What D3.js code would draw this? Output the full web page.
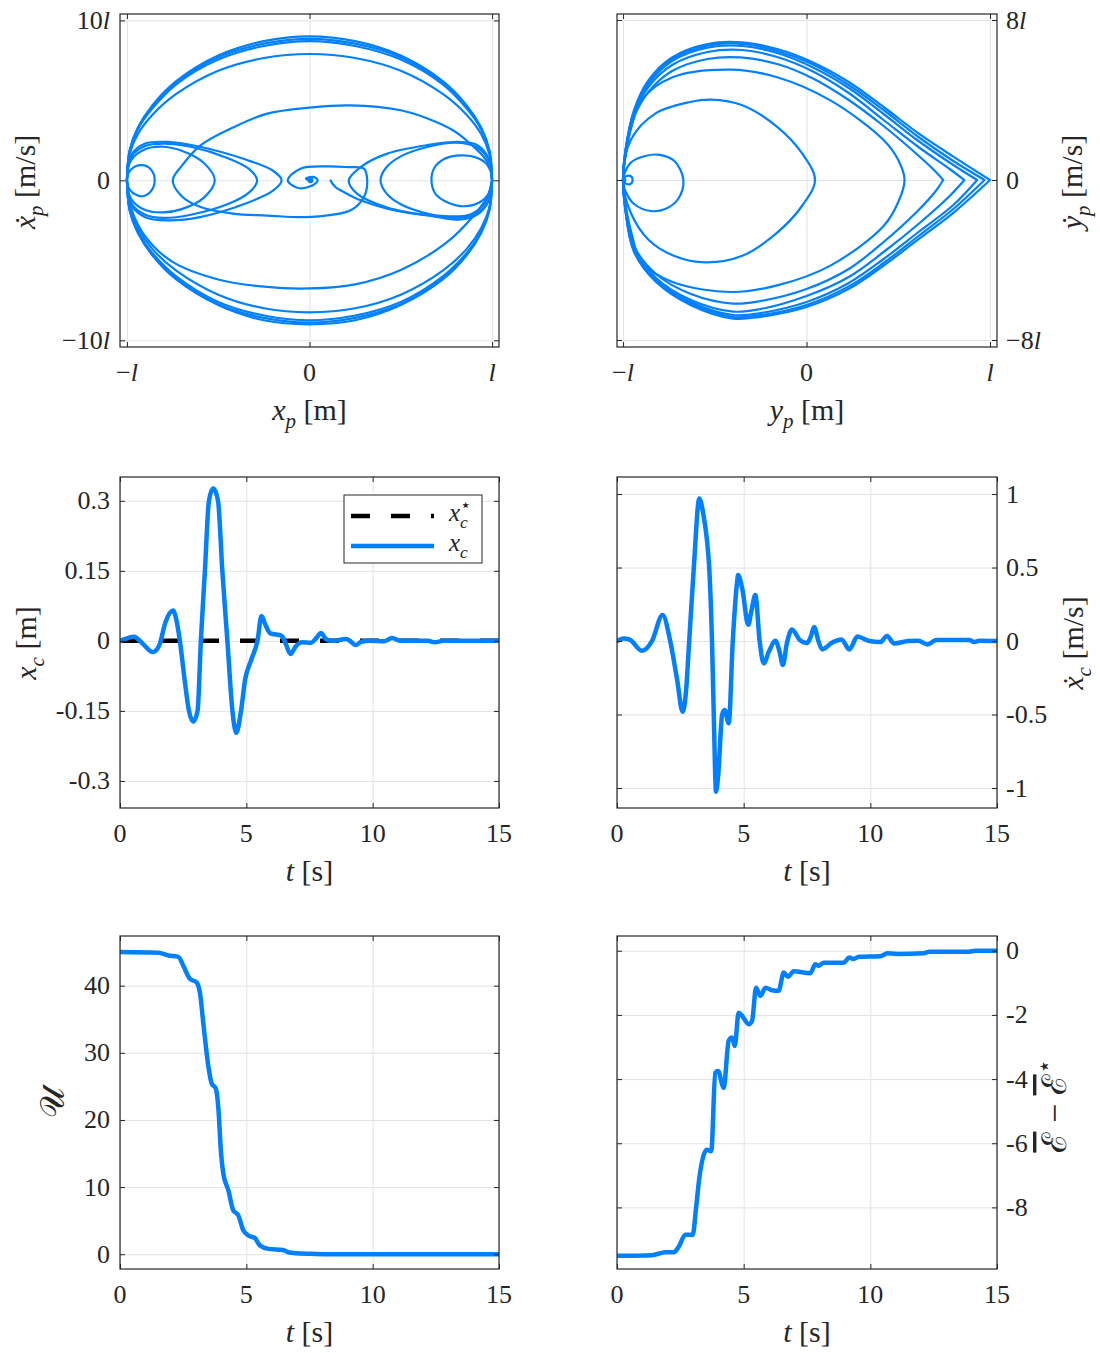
<!DOCTYPE html>
<html lang="en">
<head>
<meta charset="utf-8" />
<title>Pendulum swing-up: phase portraits and cart response</title>
<script src="https://cdn.jsdelivr.net/npm/d3@7"></script>
<style>
  body { margin: 0; background: #fff; }
  svg text { font-family: "Liberation Serif", "DejaVu Serif", serif; fill: #262626; }
</style>
</head>
<body>
<svg width="1100" height="1353"></svg>
<script>
// ---------- data ----------
// top left: x_p (in l) vs xdot_p (in l/s)
var xpOuterX = [-1, -0.985, -0.94, -0.86, -0.73, -0.5, -0.25, 0, 0.25, 0.5, 0.73, 0.86, 0.94, 0.985, 1];
var xpOuterTop = [
  [0, 1.9, 3.3, 4.7, 6.2, 7.8, 8.7, 9.0, 8.7, 7.8, 6.2, 4.7, 3.3, 1.9, 0],
  [0, 1.85, 3.25, 4.6, 6.1, 7.7, 8.55, 8.85, 8.55, 7.7, 6.1, 4.6, 3.25, 1.85, 0],
  [0, 1.8, 3.2, 4.5, 6.0, 7.55, 8.4, 8.7, 8.4, 7.55, 6.0, 4.5, 3.2, 1.8, 0],
  [0, 1.65, 2.9, 4.1, 5.4, 6.85, 7.65, 7.9, 7.65, 6.85, 5.4, 4.1, 2.9, 1.65, 0]
];
var xpOuterBottom = [
  [0, -1.9, -3.3, -4.7, -6.2, -7.8, -8.75, -9.0, -8.75, -7.8, -6.2, -4.7, -3.3, -1.9, 0],
  [0, -1.85, -3.25, -4.65, -6.1, -7.75, -8.6, -8.9, -8.6, -7.75, -6.1, -4.65, -3.25, -1.85, 0],
  [0, -1.8, -3.2, -4.55, -6.0, -7.6, -8.45, -8.75, -8.45, -7.6, -6.0, -4.55, -3.2, -1.8, 0],
  [0, -1.7, -3.0, -4.3, -5.65, -7.15, -8.0, -8.25, -8.0, -7.15, -5.65, -4.3, -3.0, -1.7, 0]
];
var xpMidBottom = [[-1, 0], [-0.975, -1.8], [-0.9, -3.5], [-0.75, -5.1], [-0.5, -6.2], [-0.25, -6.65], [0, -6.76],
  [0.25, -6.5], [0.5, -5.6], [0.75, -3.9], [0.9, -2.2], [0.975, -1.0], [1, 0]];
var xpStart = [[0.115, 0], [0.14, -0.4], [0.188, -0.73], [0.28, -1.25], [0.426, -1.77], [0.55, -2.05], [0.68, -2.19],
  [0.864, -2.19], [0.94, -1.7], [0.975, -1.1], [1, 0]];
var xpFinal = [[1, 0], [0.99, 0.8], [0.955, 1.46], [0.88, 2.3], [0.79, 3.1], [0.65, 3.85], [0.5, 4.38], [0.225, 4.69],
  [0, 4.55], [-0.232, 4.17], [-0.42, 3.3], [-0.597, 2.19], [-0.7, 0.9], [-0.749, 0], [-0.7, -1.0], [-0.597, -1.67],
  [-0.42, -2.08], [-0.232, -2.2], [0.005, -2.29], [0.225, -1.875], [0.298, -1.04], [0.316, 0], [0.298, 0.73],
  [0.207, 0.83], [0.097, 0.875], [-0.05, 0.73], [-0.119, 0], [-0.067, -0.46], [0.005, -0.375], [0.045, 0],
  [0.02, 0.22], [-0.02, 0.1], [0, 0]];
var xpLobeR1 = [[1, 0], [0.975, 0.95], [0.92, 1.4], [0.83, 1.56], [0.74, 1.35], [0.685, 0.8], [0.668, 0],
  [0.69, -0.85], [0.76, -1.4], [0.85, -1.62], [0.935, -1.35], [0.98, -0.85]];
var xpLobeR2 = [[1, 0], [0.975, 1.4], [0.91, 2.1], [0.8, 2.35], [0.65, 2.1], [0.5, 1.5], [0.42, 0.8], [0.389, 0],
  [0.42, -0.8], [0.5, -1.5], [0.65, -2.1], [0.8, -2.35], [0.91, -2.1], [0.975, -1.4]];
var xpLobeR3 = [[1, 0], [0.975, 1.5], [0.91, 2.25], [0.82, 2.4], [0.645, 2.2], [0.426, 1.67], [0.28, 0.83], [0.215, 0],
  [0.26, -0.83], [0.426, -1.7], [0.68, -2.25], [0.83, -2.45], [0.925, -2.1], [0.98, -1.3]];
var xpLobeL1 = [[-1, 0], [-0.98, 0.65], [-0.92, 0.95], [-0.87, 0.7], [-0.848, 0], [-0.87, -0.7], [-0.92, -1.0], [-0.98, -0.65]];
var xpLobeL2 = [[-1, 0], [-0.975, 1.3], [-0.9, 1.95], [-0.8, 2.1], [-0.7, 1.85], [-0.58, 1.1], [-0.519, 0],
  [-0.58, -1.1], [-0.7, -1.8], [-0.8, -2.0], [-0.9, -1.85], [-0.975, -1.2]];
var xpLobeL3 = [[-1, 0], [-0.975, 1.5], [-0.9, 2.15], [-0.8, 2.3], [-0.65, 2.1], [-0.45, 1.4], [-0.33, 0.7], [-0.287, 0],
  [-0.33, -0.75], [-0.45, -1.5], [-0.65, -2.15], [-0.8, -2.35], [-0.9, -2.15], [-0.975, -1.45]];
var xpLobeL4 = [[-1, 0], [-0.975, 1.6], [-0.9, 2.3], [-0.78, 2.4], [-0.6, 2.1], [-0.35, 1.3], [-0.2, 0.6], [-0.153, 0],
  [-0.2, -0.65], [-0.35, -1.45], [-0.6, -2.3], [-0.78, -2.5], [-0.9, -2.3], [-0.975, -1.55]];

// top right: y_p (in l) vs ydot_p (in l/s); the first four loops are rounded, the rest end in a tip
var ypRoundLoops = [
  [[-0.948, 0], [-0.96, 0.2], [-0.985, 0.18], [-1, 0], [-0.985, -0.18], [-0.96, -0.2]],
  [[-0.671, 0], [-0.72, 0.95], [-0.8, 1.26], [-0.88, 1.2], [-0.96, 0.85], [-1, 0], [-0.985, -0.6], [-0.94, -1.2],
   [-0.85, -1.55], [-0.77, -1.45], [-0.7, -0.95]],
  [[0.046, 0], [-0.025, 1.34], [-0.16, 2.66], [-0.35, 3.74], [-0.52, 4.02], [-0.635, 3.9], [-0.825, 3.32], [-0.958, 2.0],
   [-1, 0], [-0.958, -1.64], [-0.86, -3.0], [-0.72, -3.8], [-0.55, -4.12], [-0.35, -3.79], [-0.16, -2.63], [-0.025, -1.3]],
  [[0.534, 0], [0.5, 1.0], [0.42, 2.0], [0.13, 3.98], [-0.16, 5.14], [-0.41, 5.52], [-0.73, 5.14], [-0.9, 4.0],
   [-0.95, 2.8], [-0.985, 1.3], [-1, 0], [-0.985, -1.3], [-0.95, -2.8], [-0.9, -4.1], [-0.73, -5.1], [-0.41, -5.6],
   [-0.16, -5.27], [0.13, -4.28], [0.42, -2.3], [0.5, -1.1]]
];
var ypTipLoops = [
  [[0.745, 0], [0.7, 0.45], [0.6, 1.3], [0.42, 2.7], [0.23, 4.0], [0.03, 5.1], [-0.16, 5.8], [-0.36, 6.13], [-0.54, 6.05],
   [-0.733, 5.45], [-0.862, 4.4], [-0.94, 3.15], [-0.985, 1.35], [-1, 0], [-0.985, -1.4], [-0.94, -3.3], [-0.82, -4.7],
   [-0.63, -5.7], [-0.4, -6.18], [-0.25, -6.05], [0, -5.45], [0.23, -4.45], [0.42, -3.1], [0.6, -1.6], [0.7, -0.6], [0.745, 0]],
  [[0.86, 0], [0.78, 0.55], [0.61, 1.65], [0.42, 3.0], [0.23, 4.35], [0.03, 5.45], [-0.16, 6.15], [-0.35, 6.5], [-0.54, 6.4],
   [-0.733, 5.75], [-0.862, 4.65], [-0.94, 3.3], [-0.985, 1.4], [-1, 0], [-0.985, -1.45], [-0.94, -3.4], [-0.82, -4.9],
   [-0.63, -6.0], [-0.4, -6.58], [-0.25, -6.45], [0, -5.8], [0.23, -4.85], [0.42, -3.6], [0.61, -2.2], [0.78, -0.8], [0.86, 0]],
  [[0.93, 0], [0.8, 0.75], [0.61, 1.95], [0.42, 3.3], [0.23, 4.6], [0.03, 5.65], [-0.16, 6.35], [-0.35, 6.7], [-0.54, 6.62],
   [-0.733, 5.95], [-0.862, 4.8], [-0.94, 3.4], [-0.987, 1.4], [-1, 0], [-0.987, -1.5], [-0.94, -3.5], [-0.82, -5.0],
   [-0.63, -6.1], [-0.4, -6.75], [-0.25, -6.65], [0, -6.1], [0.23, -5.15], [0.42, -3.95], [0.61, -2.6], [0.8, -1.25], [0.93, 0]],
  [[0.97, 0], [0.8, 0.95], [0.61, 2.15], [0.42, 3.5], [0.23, 4.75], [0.03, 5.8], [-0.16, 6.45], [-0.35, 6.8], [-0.54, 6.72],
   [-0.733, 6.05], [-0.862, 4.9], [-0.94, 3.45], [-0.987, 1.45], [-1, 0], [-0.987, -1.5], [-0.94, -3.55], [-0.82, -5.05],
   [-0.63, -6.18], [-0.4, -6.85], [-0.25, -6.76], [0, -6.25], [0.23, -5.32], [0.42, -4.15], [0.61, -2.8], [0.8, -1.45], [0.97, 0]],
  [[1, 0], [0.8, 1.17], [0.61, 2.33], [0.42, 3.65], [0.23, 4.9], [0.03, 5.9], [-0.16, 6.55], [-0.35, 6.88], [-0.54, 6.8],
   [-0.733, 6.13], [-0.862, 4.98], [-0.94, 3.5], [-0.987, 1.5], [-1, 0], [-0.987, -1.5], [-0.94, -3.6], [-0.82, -5.1],
   [-0.63, -6.26], [-0.4, -6.93], [-0.25, -6.84], [0, -6.35], [0.23, -5.44], [0.42, -4.28], [0.61, -2.96], [0.8, -1.64], [1, 0]]
];

// middle left: cart position x_c [m] and its reference
var xcRef = [[0, 0], [15, 0]];
var xc = [[0, 0], [0.25, 0.005], [0.55, 0.009], [0.9, -0.006], [1.3, -0.024], [1.55, -0.01], [1.8, 0.04], [2.1, 0.065],
  [2.25, 0.04], [2.37, 0], [2.55, -0.08], [2.73, -0.15], [2.9, -0.173], [3.07, -0.15], [3.2, 0], [3.36, 0.15], [3.52, 0.3],
  [3.69, 0.327], [3.88, 0.3], [4.05, 0.15], [4.25, 0], [4.45, -0.15], [4.6, -0.197], [4.79, -0.15], [4.95, -0.083],
  [5.2, -0.04], [5.44, 0], [5.6, 0.053], [5.75, 0.035], [5.95, 0.016], [6.4, 0.011], [6.55, -0.005], [6.75, -0.028],
  [6.95, -0.012], [7.2, -0.003], [7.55, -0.004], [7.8, 0.008], [7.95, 0.017], [8.15, 0.004], [8.4, 0], [8.95, 0.004],
  [9.15, -0.002], [9.32, -0.009], [9.55, -0.002], [9.9, 0], [10.45, -0.001], [10.77, 0.006], [11.1, 0], [12.2, 0],
  [12.45, -0.003], [12.8, 0], [15, 0]];

// middle right: cart velocity xdot_c [m/s]
var xcDot = [[0, 0], [0.26, 0.018], [0.5, 0.01], [0.99, -0.066], [1.38, 0], [1.8, 0.177], [2.1, 0], [2.37, -0.26],
  [2.59, -0.481], [2.72, -0.35], [2.85, 0], [3.03, 0.494], [3.25, 0.97], [3.42, 0.85], [3.55, 0.687], [3.64, 0.5],
  [3.75, 0], [3.82, -0.5], [3.91, -1.025], [4.0, -0.9], [4.15, -0.5], [4.25, -0.47], [4.41, -0.56], [4.57, 0], [4.74, 0.4],
  [4.78, 0.449], [4.95, 0.35], [5.18, 0.11], [5.3, 0.2], [5.46, 0.313], [5.63, 0], [5.79, -0.152], [6.0, -0.07],
  [6.25, 0.002], [6.4, -0.06], [6.55, -0.163], [6.7, -0.02], [6.91, 0.079], [7.2, 0.01], [7.5, -0.014], [7.65, 0.03],
  [7.78, 0.095], [7.95, 0], [8.1, -0.057], [8.5, -0.01], [8.86, 0.011], [9.17, -0.057], [9.49, 0.03], [9.97, 0],
  [10.39, -0.007], [10.66, 0.034], [10.94, -0.016], [11.5, 0], [11.9, 0.002], [12.26, -0.023], [12.6, 0.007],
  [13.9, 0.007], [14.1, -0.007], [14.3, 0.002], [15, 0]];

// bottom left: Lyapunov-like function U
var uSeries = [[0, 45.0], [1.52, 44.9], [1.91, 44.5], [2.31, 44.3], [2.5, 43.0], [2.77, 41.0], [3.03, 40.5], [3.17, 38.8],
  [3.3, 34.3], [3.5, 27.9], [3.63, 25.4], [3.79, 24.7], [3.89, 21.9], [4.0, 15.0], [4.09, 12.0], [4.29, 9.5], [4.48, 6.55],
  [4.68, 5.8], [4.88, 3.57], [5.08, 2.8], [5.34, 2.4], [5.54, 1.3], [5.87, 0.8], [6.46, 0.64], [6.66, 0.3], [7.0, 0.15],
  [7.72, 0.05], [8.5, 0.01], [15, 0]];

// bottom right: energy error
var eSeries = [[0, -9.51], [1.38, -9.49], [1.91, -9.4], [2.24, -9.4], [2.44, -9.22], [2.7, -8.85], [2.99, -8.86],
  [3.12, -8.02], [3.25, -7.08], [3.55, -6.2], [3.72, -6.25], [3.88, -3.8], [3.99, -3.75], [4.21, -4.27], [4.41, -2.8],
  [4.54, -2.7], [4.65, -2.97], [4.8, -1.93], [4.94, -2.03], [5.2, -2.29], [5.33, -2.19], [5.49, -1.15], [5.66, -1.41],
  [5.86, -1.15], [6.12, -1.23], [6.38, -1.25], [6.58, -0.68], [6.75, -0.81], [6.98, -0.64], [7.63, -0.7], [7.83, -0.42],
  [7.96, -0.47], [8.16, -0.37], [8.95, -0.37], [9.17, -0.21], [9.34, -0.26], [9.54, -0.19], [10.4, -0.17], [10.68, -0.08],
  [11.2, -0.1], [12.07, -0.08], [12.34, -0.03], [13.87, -0.03], [14.15, 0], [15, 0]];

// tick values
var lTicks = [-1, 0, 1];
var tTicks = [0, 5, 10, 15];
var xpdTicks = [-10, 0, 10];
var ypdTicks = [-8, 0, 8];
var xcTicks = [-0.3, -0.15, 0, 0.15, 0.3];
var xcdTicks = [-1, -0.5, 0, 0.5, 1];
var uTicks = [0, 10, 20, 30, 40];
var eTicks = [-8, -6, -4, -2, 0];

// ---------- drawing ----------
var svg = d3.select('svg');
var BLUE = '#0080ff', INK = '#262626', GRID = '#e3e3e3';
var TICK_FONT = 26, TITLE_FONT = 30;
var defs = svg.append('defs');
var panelCount = 0;

// text with italic / subscript / superscript / overlined pieces
function mathText(g, px, py, parts, size, anchor, rotate) {
  var t = g.append('text').attr('x', px).attr('y', py)
    .attr('font-size', size).attr('text-anchor', anchor);
  if (rotate) t.attr('transform', 'rotate(' + rotate + ' ' + px + ' ' + py + ')');
  var prev = 0;
  parts.forEach(function (p) {
    var s = t.append('tspan').text(p[0]);
    var st = p[1] || '';
    var shift = 0;
    if (st.charAt(0) === 'i') s.attr('font-style', 'italic');
    if (st.indexOf('bar') >= 0) s.style('text-decoration', 'overline');
    if (st.indexOf('sub') >= 0) { s.attr('font-size', size * 0.7); shift = size * 0.28; }
    if (st.indexOf('sup') >= 0) { s.attr('font-size', size * 0.7); shift = -size * 0.4; }
    if (shift !== prev) s.attr('dy', shift - prev);
    if (p[2]) s.attr('dx', p[2]);
    prev = shift;
  });
  return t;
}

function panel(o) {
  var x = d3.scaleLinear().domain(o.xDom).range([o.left, o.right]);
  var y = d3.scaleLinear().domain(o.yDom).range([o.bottom, o.top]);
  var w = o.right - o.left, h = o.bottom - o.top;
  var g = svg.append('g');

  // grid lines
  var gx = g.append('g').attr('transform', 'translate(0,' + o.bottom + ')')
    .call(d3.axisBottom(x).tickValues(o.xTicks).tickSize(-h).tickFormat(''));
  var gy = g.append('g').attr('transform', 'translate(' + o.left + ',0)')
    .call(d3.axisLeft(y).tickValues(o.yTicks).tickSize(-w).tickFormat(''));
  [gx, gy].forEach(function (a) {
    a.select('.domain').remove();
    a.selectAll('line').attr('stroke', GRID).attr('stroke-width', 1);
  });

  // data, clipped to the axes box
  var id = 'clip' + (panelCount++);
  defs.append('clipPath').attr('id', id).append('rect')
    .attr('x', o.left).attr('y', o.top).attr('width', w).attr('height', h);
  var plot = g.append('g').attr('clip-path', 'url(#' + id + ')');
  o.draw(plot, x, y);

  // inward ticks on all four sides
  [[d3.axisBottom(x), o.xTicks, 'translate(0,' + o.bottom + ')'],
   [d3.axisTop(x), o.xTicks, 'translate(0,' + o.top + ')'],
   [d3.axisLeft(y), o.yTicks, 'translate(' + o.left + ',0)'],
   [d3.axisRight(y), o.yTicks, 'translate(' + o.right + ',0)']].forEach(function (a) {
    var ax = g.append('g').attr('transform', a[2])
      .call(a[0].tickValues(a[1]).tickSize(-5).tickFormat(''));
    ax.select('.domain').remove();
    ax.selectAll('line').attr('stroke', INK).attr('stroke-width', 1);
  });
  g.append('rect').attr('x', o.left).attr('y', o.top).attr('width', w).attr('height', h)
    .attr('fill', 'none').attr('stroke', INK).attr('stroke-width', 1.2);

  // tick labels and titles
  o.xTicks.forEach(function (v, i) {
    mathText(g, x(v), o.bottom + 34, o.xLabels[i], TICK_FONT, 'middle');
  });
  var onRight = o.ySide === 'right';
  o.yTicks.forEach(function (v, i) {
    mathText(g, onRight ? o.right + 9 : o.left - 10, y(v) + 8.5, o.yLabels[i], TICK_FONT, onRight ? 'start' : 'end');
  });
  mathText(g, (o.left + o.right) / 2, o.bottom + 73, o.xTitle, TITLE_FONT, 'middle');
  mathText(g, o.yTitleX, o.yTitleY, o.yTitle, o.yTitleSize || TITLE_FONT, 'middle', -90);
  return { g: g, x: x, y: y };
}

function strokePath(g, d, width, color) {
  return g.append('path').attr('d', d).attr('fill', 'none')
    .attr('stroke', color || BLUE).attr('stroke-width', width)
    .attr('stroke-linejoin', 'round').attr('stroke-linecap', 'round');
}

var lLabels = [[['\u2212', ''], ['l', 'i']], [['0', '']], [['l', 'i']]];
var tLabels = tTicks.map(function (v) { return [[String(v), '']]; });
var tTitle = [['t', 'i'], [' [s]', '']];

// top left
panel({
  left: 120, right: 499, top: 14, bottom: 347,
  xDom: [-1.038, 1.038], yDom: [-10.42, 10.4],
  xTicks: lTicks, yTicks: xpdTicks,
  xLabels: lLabels,
  yLabels: [[['\u221210', ''], ['l', 'i']], [['0', '']], [['10', ''], ['l', 'i']]],
  xTitle: [['x', 'i'], ['p', 'isub'], [' [m]', '']],
  yTitle: [['\u1E8B', 'i'], ['p', 'isub'], [' [m/s]', '']],
  yTitleX: 35, yTitleY: 182,
  draw: function (g, x, y) {
    var open = d3.line().x(function (d) { return x(d[0]); }).y(function (d) { return y(d[1]); })
      .curve(d3.curveCatmullRom.alpha(0.5));
    var closed = d3.line().x(function (d) { return x(d[0]); }).y(function (d) { return y(d[1]); })
      .curve(d3.curveCatmullRomClosed.alpha(0.5));
    xpOuterTop.concat(xpOuterBottom).forEach(function (arc) {
      strokePath(g, open(xpOuterX.map(function (xv, i) { return [xv, arc[i]]; })), 2.2);
    });
    strokePath(g, open(xpMidBottom), 2.2);
    strokePath(g, open(xpStart), 2.2);
    strokePath(g, open(xpFinal), 2.2);
    [xpLobeR1, xpLobeR2, xpLobeR3, xpLobeL1, xpLobeL2, xpLobeL3, xpLobeL4].forEach(function (lobe) {
      strokePath(g, closed(lobe), 2.2);
    });
    g.append('circle').attr('cx', x(0.005)).attr('cy', y(0)).attr('r', 3).attr('fill', BLUE);
  }
});

// top right
panel({
  left: 617, right: 997, top: 14, bottom: 347,
  xDom: [-1.033, 1.038], yDom: [-8.35, 8.3],
  xTicks: lTicks, yTicks: ypdTicks, ySide: 'right',
  xLabels: lLabels,
  yLabels: [[['\u22128', ''], ['l', 'i']], [['0', '']], [['8', ''], ['l', 'i']]],
  xTitle: [['y', 'i'], ['p', 'isub'], [' [m]', '']],
  yTitle: [['\u1E8F', 'i'], ['p', 'isub'], [' [m/s]', '']],
  yTitleX: 1082, yTitleY: 182,
  draw: function (g, x, y) {
    var open = d3.line().x(function (d) { return x(d[0]); }).y(function (d) { return y(d[1]); })
      .curve(d3.curveCatmullRom.alpha(0.5));
    var closed = d3.line().x(function (d) { return x(d[0]); }).y(function (d) { return y(d[1]); })
      .curve(d3.curveCatmullRomClosed.alpha(0.5));
    ypRoundLoops.forEach(function (loop) { strokePath(g, closed(loop), 2.2); });
    ypTipLoops.forEach(function (loop) { strokePath(g, open(loop), 2.2); });
    g.append('circle').attr('cx', x(-0.995)).attr('cy', y(0)).attr('r', 2.5).attr('fill', BLUE);
  }
});

// middle left
var p3 = panel({
  left: 120, right: 499, top: 477, bottom: 808,
  xDom: [0, 15], yDom: [-0.358, 0.351],
  xTicks: tTicks, yTicks: xcTicks,
  xLabels: tLabels,
  yLabels: [[['-0.3', '']], [['-0.15', '']], [['0', '']], [['0.15', '']], [['0.3', '']]],
  xTitle: tTitle,
  yTitle: [['x', 'i'], ['c', 'isub'], [' [m]', '']],
  yTitleX: 36, yTitleY: 643,
  draw: function (g, x, y) {
    var line = d3.line().x(function (d) { return x(d[0]); }).y(function (d) { return y(d[1]); })
      .curve(d3.curveMonotoneX);
    strokePath(g, line(xcRef), 4.5, '#000').attr('stroke-dasharray', '19,21').attr('stroke-linecap', 'butt');
    strokePath(g, line(xc), 4.5);
  }
});
var lg = p3.g.append('g');
lg.append('rect').attr('x', 344).attr('y', 495).attr('width', 138).attr('height', 68)
  .attr('fill', '#fff').attr('stroke', INK).attr('stroke-width', 1);
lg.append('line').attr('x1', 351).attr('x2', 434).attr('y1', 516).attr('y2', 516)
  .attr('stroke', '#000').attr('stroke-width', 4.5).attr('stroke-dasharray', '19,21');
lg.append('line').attr('x1', 351).attr('x2', 434).attr('y1', 546).attr('y2', 546)
  .attr('stroke', BLUE).attr('stroke-width', 4.5);
mathText(lg, 449, 521, [['x', 'i'], ['c', 'isub'], ['\u22C6', 'sup', -8]], 25, 'start');
mathText(lg, 449, 551, [['x', 'i'], ['c', 'isub']], 25, 'start');

// middle right
panel({
  left: 617, right: 997, top: 477, bottom: 808,
  xDom: [0, 15], yDom: [-1.136, 1.116],
  xTicks: tTicks, yTicks: xcdTicks, ySide: 'right',
  xLabels: tLabels,
  yLabels: [[['-1', '']], [['-0.5', '']], [['0', '']], [['0.5', '']], [['1', '']]],
  xTitle: tTitle,
  yTitle: [['\u1E8B', 'i'], ['c', 'isub'], [' [m/s]', '']],
  yTitleX: 1083, yTitleY: 643,
  draw: function (g, x, y) {
    var line = d3.line().x(function (d) { return x(d[0]); }).y(function (d) { return y(d[1]); })
      .curve(d3.curveMonotoneX);
    strokePath(g, line(xcDot), 4.5);
  }
});

// bottom left
panel({
  left: 120, right: 499, top: 936, bottom: 1269,
  xDom: [0, 15], yDom: [-2.2, 47.4],
  xTicks: tTicks, yTicks: uTicks,
  xLabels: tLabels,
  yLabels: uTicks.map(function (v) { return [[String(v), '']]; }),
  xTitle: tTitle,
  yTitle: [['\uD835\uDCB0', '']], yTitleSize: 34,
  yTitleX: 64, yTitleY: 1102,
  draw: function (g, x, y) {
    var line = d3.line().x(function (d) { return x(d[0]); }).y(function (d) { return y(d[1]); })
      .curve(d3.curveMonotoneX);
    strokePath(g, line(uSeries), 4.5);
  }
});

// bottom right
panel({
  left: 617, right: 997, top: 936, bottom: 1269,
  xDom: [0, 15], yDom: [-9.92, 0.46],
  xTicks: tTicks, yTicks: eTicks, ySide: 'right',
  xLabels: tLabels,
  yLabels: eTicks.map(function (v) { return [[String(v), '']]; }),
  xTitle: tTitle,
  yTitle: [['\u2130', 'bar'], [' \u2212 ', ''], ['\u2130', 'bar'], ['\u22C6', 'sup']], yTitleSize: 34,
  yTitleX: 1066, yTitleY: 1106,
  draw: function (g, x, y) {
    var line = d3.line().x(function (d) { return x(d[0]); }).y(function (d) { return y(d[1]); })
      .curve(d3.curveMonotoneX);
    strokePath(g, line(eSeries), 4.5);
  }
});
</script>
</body>
</html>
